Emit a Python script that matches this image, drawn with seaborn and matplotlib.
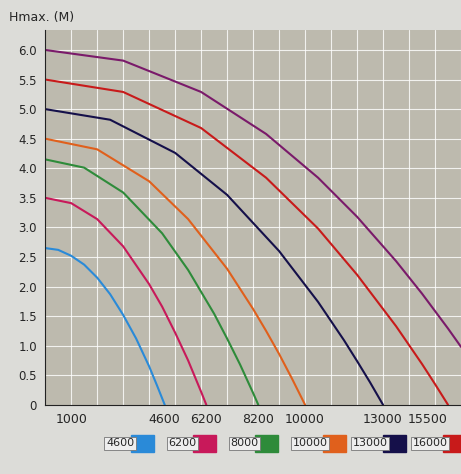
import matplotlib
matplotlib.use("Agg")
import matplotlib.pyplot as plt
import seaborn as sns
import pandas as pd
from matplotlib.patches import Rectangle

sns.set_style("white")
plt.rcParams['font.family'] = ['DejaVu Sans']

names = ["4600", "6200", "8000", "10000", "13000", "16000", "18000"]
colors = ["#2a8ad8", "#c8195a", "#2e8b3a", "#e0601c", "#15104a", "#c81a1a", "#7a1a6a"]
flows = [
    [0, 500, 1000, 1500, 2000, 2500, 3000, 3500, 4000, 4300, 4600],
    [0, 1000, 2000, 3000, 4000, 4500, 5000, 5500, 6000, 6200],
    [0, 1500, 3000, 4500, 5500, 6500, 7000, 7500, 8000, 8200],
    [0, 2000, 4000, 5500, 7000, 8000, 8500, 9000, 9500, 10000],
    [0, 2500, 5000, 7000, 9000, 10500, 11500, 12000, 12500, 13000],
    [0, 3000, 6000, 8500, 10500, 12000, 13500, 14500, 15000, 15500],
    [0, 3000, 6000, 8500, 10500, 12000, 13500, 14500, 15500, 16000],
]
heads = [
    [2.65, 2.62, 2.52, 2.37, 2.15, 1.87, 1.52, 1.12, 0.65, 0.33, 0.0],
    [3.5, 3.41, 3.14, 2.68, 2.04, 1.66, 1.22, 0.75, 0.22, 0.0],
    [4.15, 4.01, 3.59, 2.90, 2.28, 1.54, 1.12, 0.68, 0.20, 0.0],
    [4.5, 4.32, 3.78, 3.14, 2.30, 1.62, 1.25, 0.86, 0.44, 0.0],
    [5.0, 4.82, 4.26, 3.55, 2.60, 1.74, 1.09, 0.74, 0.38, 0.0],
    [5.5, 5.29, 4.68, 3.84, 2.98, 2.20, 1.33, 0.69, 0.35, 0.0],
    [6.0, 5.82, 5.29, 4.58, 3.84, 3.18, 2.43, 1.88, 1.29, 0.98],
]
xticks = [1000, 4600, 6200, 8200, 10000, 13000, 15500]
yticks = [0, 0.5, 1.0, 1.5, 2.0, 2.5, 3.0, 3.5, 4.0, 4.5, 5.0, 5.5, 6.0]
ylabels = ["0", "0.5", "1.0", "1.5", "2.0", "2.5", "3.0", "3.5", "4.0", "4.5", "5.0", "5.5", "6.0"]

rows = []
for n, f, h in zip(names, flows, heads):
    for q, v in zip(f, h):
        rows.append({"model": n, "q": q, "h": v})
df = pd.DataFrame(rows)

fig = plt.figure(figsize=(4.61, 4.74), dpi=100, facecolor="#dcdcd8")
ax = fig.add_axes([0.098, 0.146, 0.902, 0.791])
ax.set_facecolor("#bdbaae")
for x in range(1000, 16001, 1000):
    ax.axvline(x, color="white", lw=0.8, alpha=0.8, zorder=0)
for y in [i * 0.5 for i in range(1, 13)]:
    ax.axhline(y, color="white", lw=0.8, alpha=0.8, zorder=0)
sns.lineplot(data=df, x="q", y="h", hue="model", palette=dict(zip(names, colors)),
             ax=ax, legend=False, lw=1.5, sort=False, estimator=None)
ax.set_xlim(0, 16000)
ax.set_ylim(0, 6.34)
ax.set_xticks(xticks)
ax.set_xticklabels([str(x) for x in xticks], fontsize=9)
ax.get_xticklabels()[-1].set_horizontalalignment("right")
ax.set_yticks(yticks)
ax.set_yticklabels(ylabels, fontsize=8.5)
ax.tick_params(length=0, pad=6)
ax.set_xlabel("")
ax.set_ylabel("")
for s in ["top", "right"]:
    ax.spines[s].set_visible(False)
ax.spines["left"].set_color("#222")
ax.spines["bottom"].set_color("#222")
fig.text(0.02, 0.955, "Hmax. (M)", fontsize=9)

xs = [0.23, 0.365, 0.5, 0.635, 0.765, 0.895]
for x0, n, c in zip(xs, names[:6], colors[:6]):
    fig.text(x0, 0.065, n, fontsize=8, va="center",
             bbox=dict(boxstyle="square,pad=0.15", fc="#eeeeee", ec="#777", lw=0.6))
    fig.patches.append(Rectangle((x0 + 0.008 + 0.0115 * len(n), 0.047), 0.05, 0.036,
                                 transform=fig.transFigure, color=c))
fig.savefig("out.png", dpi=100, facecolor=fig.get_facecolor())
